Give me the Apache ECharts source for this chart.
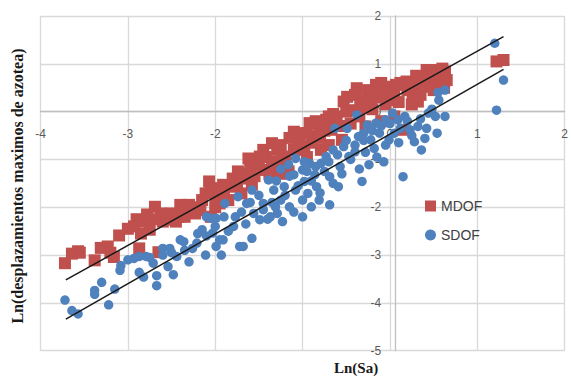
<!DOCTYPE html>
<html>
<head>
<meta charset="utf-8">
<script src="https://cdn.jsdelivr.net/npm/echarts@6/dist/echarts.min.js"></script>
<style>html,body{margin:0;padding:0;background:#fff;}#c{width:571px;height:378px;}</style>
</head>
<body>
<div id="c"></div>
<script>
var xTicks = [-4, -3, -2, -1, 0, 1, 2];
var yTicks = [-5, -4, -3, -2, -1, 0, 1, 2];
var seriesNames = ['MDOF', 'SDOF'];
var xTitle = 'Ln(Sa)';
var yTitle = 'Ln(desplazamientos maximos de azotea)';

var mdof = [
[-3.72,-3.17],[-3.64,-2.97],[-3.57,-2.92],[-3.38,-3.11],[-3.31,-2.85],[-3.23,-2.82],[-3.16,-3.04],[-3.10,-2.59],
[-2.93,-2.40],[-2.87,-2.86],[-2.81,-2.30],[-2.75,-2.47],[-2.69,-1.99],[-2.65,-2.94],[-2.62,-2.13],[-2.56,-2.26],
[-2.50,-2.13],[-2.42,-2.20],[-2.38,-2.06],[-2.30,-1.95],[-2.23,-2.13],[-2.17,-2.06],[-2.11,-1.71],[-2.07,-1.46],
[-2.05,-2.20],[-1.99,-1.78],[-1.95,-1.92],[-1.91,-1.53],[-1.82,-1.57],[-1.74,-1.25],[-1.70,-1.71],[-1.62,-0.98],
[-1.58,-1.53],[-1.49,-0.94],[-1.45,-1.22],[-1.35,-0.66],[-1.29,-0.80],[-1.23,-0.94],[-1.16,-1.25],[-1.10,-0.42],
[-1.04,-0.59],[-0.98,-0.73],[-0.92,-0.24],[-0.88,-0.52],[-0.81,-0.31],[-0.79,-0.80],[-0.73,-0.17],[-0.67,-0.38],
[-0.61,-0.10],[-0.55,-0.59],[-0.53,0.21],[-0.49,0.31],[-0.42,0.03],[-0.38,0.49],[-0.34,0.24],[-0.28,-0.31],
[-0.22,0.28],[-0.16,0.56],[-0.09,0.35],[-0.03,0.52],[0.01,0.24],[0.07,0.56],[0.15,-0.38],[0.19,0.63],
[0.26,0.38],[0.32,0.21],[0.36,0.66],[0.42,0.87],[0.46,0.52],[0.52,0.87],[0.56,0.59],[0.63,0.84],[0.65,0.66],
[1.22,1.05],[1.30,1.08],
[-3.55,-2.95],[-3.20,-2.95],[-3.00,-2.45],[-2.90,-2.25],[-2.78,-2.15],[-2.60,-2.30],[-2.45,-2.30],[-2.35,-2.20],
[-2.25,-2.00],[-2.15,-1.85],[-2.05,-1.65],[-2.00,-2.00],[-1.90,-1.70],[-1.85,-1.85],[-1.80,-1.40],[-1.75,-1.55],
[-1.65,-1.30],[-1.60,-1.15],[-1.55,-1.35],[-1.50,-1.10],[-1.42,-0.95],[-1.38,-1.30],[-1.30,-1.10],[-1.25,-0.70],
[-1.20,-1.05],[-1.15,-0.55],[-1.05,-0.80],[-1.00,-0.45],[-0.95,-0.95],[-0.90,-0.65],[-0.85,-0.20],[-0.80,-0.55],
[-0.75,-0.40],[-0.70,-0.70],[-0.65,-0.05],[-0.60,-0.30],[-0.50,0.00],[-0.45,-0.25],[-0.40,0.35],[-0.35,-0.10],
[-0.30,0.10],[-0.25,0.45],[-0.20,0.05],[-0.15,0.30],[-0.10,0.60],[-0.05,0.15],[0.00,0.45],[0.05,0.35],
[0.10,0.20],[0.12,0.60],[0.20,0.45],[0.25,0.15],[0.30,0.55],[0.35,0.35],[0.40,0.60],[0.45,0.75],
[0.50,0.45],[0.55,0.75],[0.60,0.90],[0.62,0.50],[-0.10,-0.20],[0.05,-0.10],
[-1.70,-1.40],[-1.45,-0.80],[-1.35,-1.05],[-1.10,-0.80],[-0.95,-0.45],[-0.70,-0.10],[-0.55,-0.30],[-2.40,-1.95],
[-2.70,-2.25],[-2.85,-2.55],[-1.95,-1.60],[-1.25,-1.30],[-0.20,0.40],[0.30,0.75]
];

var sdof = [
[-3.72,-3.94],[-3.64,-4.16],[-3.57,-4.23],[-3.38,-3.74],[-3.38,-3.82],[-3.30,-3.57],[-3.22,-4.04],[-3.15,-3.71],
[-3.09,-3.32],[-3.08,-3.22],[-2.93,-3.07],[-2.87,-3.03],[-2.87,-3.36],[-2.82,-3.46],[-2.79,-3.03],[-2.71,-3.17],
[-2.67,-3.64],[-2.67,-3.43],[-2.60,-2.86],[-2.54,-3.24],[-2.52,-2.86],[-2.48,-3.41],[-2.44,-3.03],[-2.40,-2.68],
[-2.36,-2.72],[-2.30,-3.14],[-2.26,-2.86],[-2.21,-2.75],[-2.15,-2.47],[-2.11,-3.00],[-2.10,-2.20],[-2.05,-2.23],
[-2.03,-2.54],[-1.99,-2.23],[-1.99,-2.82],[-1.95,-2.68],[-1.93,-3.00],[-1.91,-2.68],[-1.89,-1.92],[-1.79,-2.40],
[-1.77,-2.20],[-1.74,-1.78],[-1.72,-2.82],[-1.68,-2.82],[-1.64,-1.92],[-1.58,-1.64],[-1.58,-2.65],[-1.56,-2.13],
[-1.49,-2.26],[-1.45,-1.92],[-1.39,-1.43],[-1.37,-2.20],[-1.33,-1.64],[-1.31,-1.99],[-1.29,-2.13],[-1.25,-1.85],
[-1.23,-2.30],[-1.21,-1.57],[-1.16,-1.11],[-1.15,-1.99],[-1.10,-1.32],[-1.08,-1.64],[-1.08,-0.98],[-1.00,-2.20],
[-1.00,-1.22],[-0.98,-1.46],[-0.94,-1.71],[-0.92,-1.08],[-0.90,-1.99],[-0.86,-1.32],[-0.84,-1.57],[-0.81,-1.85],
[-0.79,-1.08],[-0.73,-0.94],[-0.69,-1.36],[-0.69,-1.95],[-0.65,-0.80],[-0.63,-0.35],[-0.59,-1.57],[-0.57,-1.15],
[-0.53,-0.73],[-0.49,-0.35],[-0.47,-0.94],[-0.40,-0.84],[-0.38,-0.07],[-0.36,-0.52],[-0.32,-1.46],[-0.30,-0.45],
[-0.26,-0.28],[-0.24,-1.11],[-0.22,-0.59],[-0.18,-0.77],[-0.16,-0.24],[-0.12,-0.45],[-0.07,-1.05],[-0.05,-0.17],
[-0.01,-0.59],[0.03,-0.03],[0.05,-0.45],[0.09,-0.17],[0.15,-1.36],[0.17,-0.10],[0.23,-0.38],[0.28,-0.63],
[0.32,-0.31],[0.36,-0.80],[0.40,-0.56],[0.44,-0.03],[0.52,-0.10],[0.54,-0.45],[0.56,0.24],[0.63,0.45],
[0.63,-0.10],[1.20,1.43],[1.30,0.66],[1.22,0.03],
[-3.00,-3.10],[-2.75,-3.05],[-2.60,-3.00],[-2.50,-2.95],[-2.35,-2.90],[-2.20,-2.55],[-2.10,-2.60],[-2.00,-2.40],
[-1.90,-2.20],[-1.85,-2.50],[-1.70,-2.10],[-1.65,-2.35],[-1.60,-1.90],[-1.50,-1.75],[-1.45,-2.05],[-1.40,-2.25],
[-1.35,-1.90],[-1.30,-1.45],[-1.20,-1.75],[-1.15,-1.35],[-1.10,-2.10],[-1.05,-1.55],[-1.00,-1.85],[-0.95,-1.25],
[-0.90,-1.45],[-0.85,-1.15],[-0.80,-1.70],[-0.75,-1.25],[-0.70,-1.05],[-0.65,-1.50],[-0.60,-0.90],[-0.55,-1.30],
[-0.50,-0.60],[-0.45,-1.00],[-0.40,-0.70],[-0.35,-1.20],[-0.30,-0.60],[-0.28,-0.85],[-0.20,-0.40],[-0.15,-0.95],
[-0.10,-0.30],[-0.05,-0.70],[0.00,-0.25],[0.10,-0.65],[0.12,-0.35],[0.20,-0.20],[0.25,-0.50],[0.35,-0.15],
[0.42,-0.35],[0.48,0.05],[0.55,0.40],[-1.25,-1.20],[-0.98,-1.05]
];

var trendMDOF = [[-3.71,-3.52],[1.30,1.57]];
var trendSDOF = [[-3.71,-4.34],[1.30,0.885]];

var gridLeft = 40.5, gridTop = 16, gridW = 532, gridH = 334.7;
// place each axis line where the other axis is zero
var xZeroOffset = -gridH * (0 - yTicks[0]) / (yTicks[yTicks.length - 1] - yTicks[0]);
var yZeroOffset = -gridW * (0 - xTicks[0]) / (xTicks[xTicks.length - 1] - xTicks[0]);

var chart = echarts.init(document.getElementById('c'), null, {renderer: 'svg'});
var gridCol = '#d9d9d9';
var labelStyle = {color: '#595959', fontSize: 12, fontFamily: 'Liberation Sans, Arial, sans-serif'};
chart.setOption({
  animation: false,
  backgroundColor: '#ffffff',
  grid: {left: gridLeft, top: gridTop, width: gridW, height: gridH, containLabel: false},
  xAxis: {
    type: 'value', min: xTicks[0], max: xTicks[xTicks.length - 1], interval: 1,
    position: 'bottom', offset: xZeroOffset,
    axisLine: {show: true, onZero: false, lineStyle: {color: '#bfbfbf', width: 1.3}},
    axisTick: {show: false},
    axisLabel: Object.assign({margin: 16, showMinLabel: true, showMaxLabel: true}, labelStyle),
    splitLine: {show: true, lineStyle: {color: gridCol, width: 1.3}}
  },
  yAxis: {
    type: 'value', min: yTicks[0], max: yTicks[yTicks.length - 1], interval: 1,
    position: 'left', offset: yZeroOffset,
    axisLine: {show: true, onZero: false, lineStyle: {color: '#bfbfbf', width: 1.3}},
    axisTick: {show: false},
    axisLabel: Object.assign({margin: 14, showMinLabel: true, showMaxLabel: true}, labelStyle),
    splitLine: {show: true, lineStyle: {color: gridCol, width: 1.3}}
  },
  legend: {
    orient: 'vertical', left: 420, top: 194, itemGap: 15, itemWidth: 11, itemHeight: 11,
    textStyle: {color: '#404040', fontSize: 14, fontFamily: 'Liberation Sans, Arial, sans-serif'},
    data: [{name: seriesNames[0], icon: 'rect'}, {name: seriesNames[1], icon: 'circle'}]
  },
  graphic: [
    {type: 'text', left: 334, top: 360, style: {text: xTitle, fill: '#1a1a1a', font: 'bold 15px "Liberation Serif", "Times New Roman", serif'}},
    {type: 'text', x: 17, y: 186, rotation: Math.PI / 2, style: {text: yTitle, fill: '#1a1a1a', align: 'center', verticalAlign: 'middle', font: 'bold 16px "Liberation Serif", "Times New Roman", serif'}}
  ],
  series: [
    {name: seriesNames[0], type: 'scatter', symbol: 'rect', symbolSize: 12, data: mdof, itemStyle: {color: '#c0504d', opacity: 1}, z: 2},
    {name: seriesNames[1], type: 'scatter', symbol: 'circle', symbolSize: 9.5, data: sdof, itemStyle: {color: '#4f81bd', opacity: 1}, z: 3},
    {type: 'line', data: trendMDOF, symbol: 'none', lineStyle: {color: '#1a1a1a', width: 1.5}, z: 4, silent: true},
    {type: 'line', data: trendSDOF, symbol: 'none', lineStyle: {color: '#1a1a1a', width: 1.5}, z: 4, silent: true}
  ]
});
</script>
</body>
</html>
